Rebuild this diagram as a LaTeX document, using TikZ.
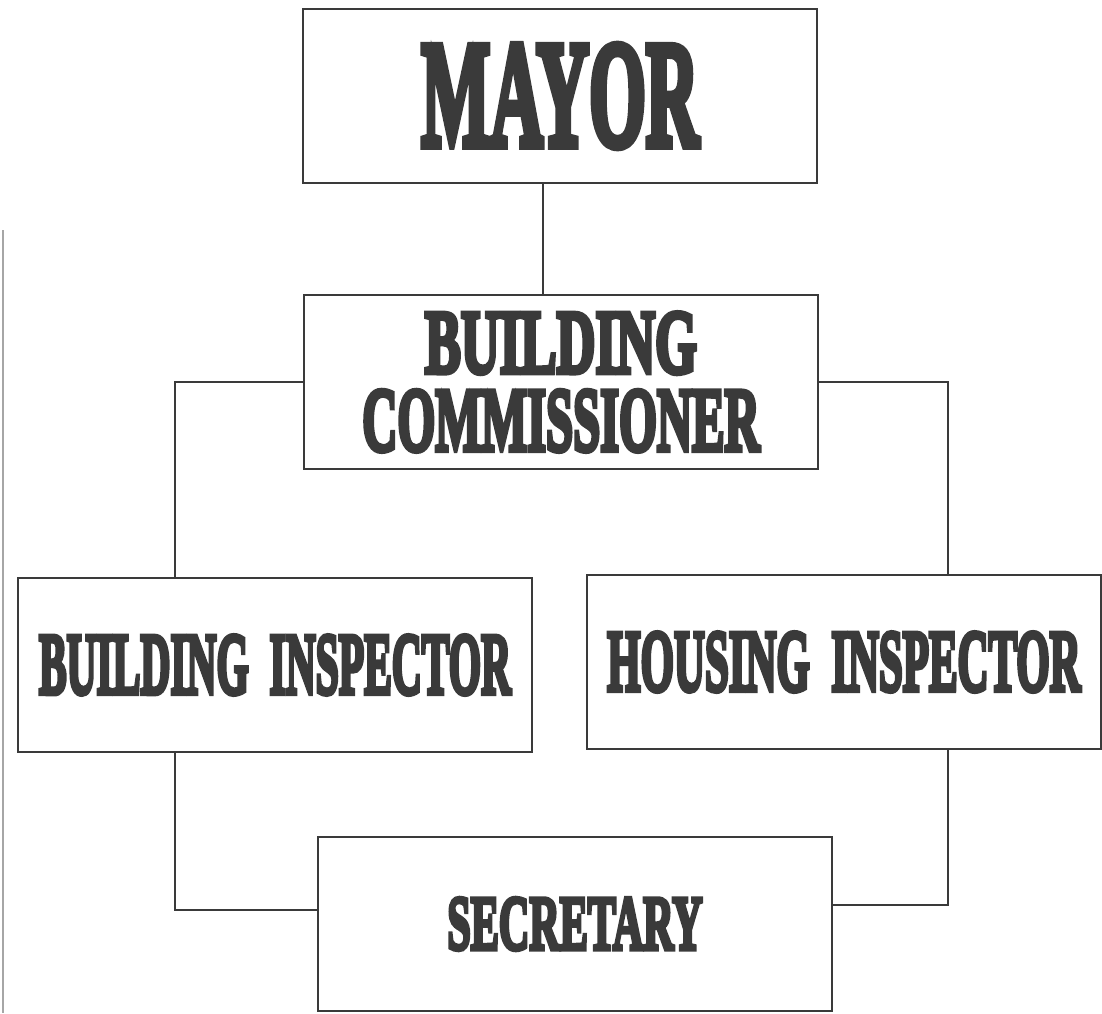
\documentclass[tikz,border=0pt]{standalone}
\usepackage{fontspec}
\usepackage{graphicx}
\usepackage{xcolor}
\usepackage{tikz}
\usetikzlibrary{positioning}
\usetikzlibrary{calc}

\newfontfamily\chartfont{Liberation Serif}[BoldFeatures={FakeBold=6}]
\definecolor{ink}{RGB}{58,58,58}
\newcommand{\posttitle}[3]{\resizebox{#1}{#2}{\chartfont\bfseries #3}}

\begin{document}
\begin{tikzpicture}[x=0.025cm, y=-0.025cm,
  post/.style = {draw=ink, line width=2pt, minimum width=12.85cm, minimum height=4.35cm,
                 inner sep=0pt, text=ink, align=center},
  link/.style = {draw=ink, line width=1.5pt}]
\useasboundingbox (0,0) rectangle (1102,1013);

\node[post] (mayor) at (560,96) {\posttitle{6.93cm}{2.5cm}{MAYOR}};
\node[post] (comm) at (561,382) {\posttitle{6.8cm}{1.5cm}{BUILDING}\\[11pt]
                                  \posttitle{9.93cm}{1.5cm}{COMMISSIONER}};
\node[post] (bins) at (275,665) {\posttitle{11.8cm}{1.45cm}{BUILDING\hspace{0.25em} INSPECTOR}};
\node[post] (hins) at (844,662) {\posttitle{11.83cm}{1.45cm}{HOUSING\hspace{0.25em} INSPECTOR}};
\node[post] (sec) at (575,924) {\posttitle{6.38cm}{1.28cm}{SECRETARY}};

\coordinate (lcol) at (175,0);
\coordinate (rcol) at (948,0);

\draw[link] ([xshift=-0.43cm]mayor.south) -- ([xshift=-0.43cm]mayor.south |- comm.north);
\draw[link] (comm.west) -| (lcol |- bins.north);
\draw[link] (comm.east) -| (rcol |- hins.north);
\draw[link] (lcol |- bins.south) |- ([yshift=0.35cm]sec.west);
\draw[link] (rcol |- hins.south) |- ([yshift=0.47cm]sec.east);

% page edge
\draw[gray!70, line width=1.4pt] (3,230) -- (3,1013);
\end{tikzpicture}
\end{document}
